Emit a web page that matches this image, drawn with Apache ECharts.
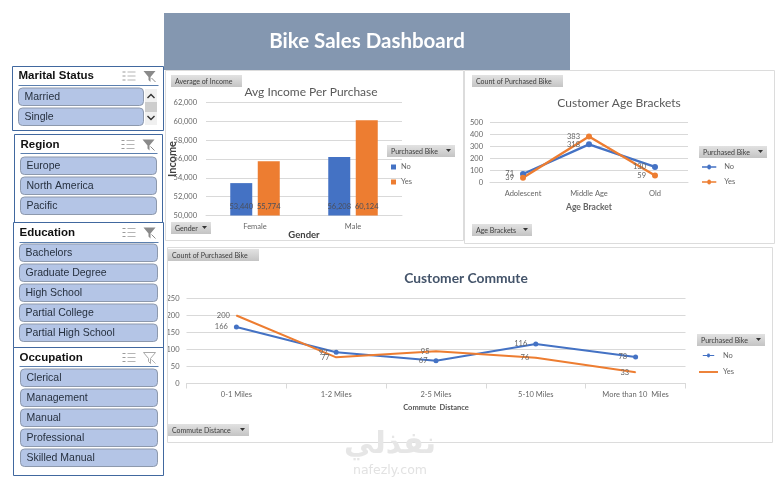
<!DOCTYPE html>
<html><head><meta charset="utf-8">
<style>html,body{margin:0;padding:0;background:#fff}#c{width:780px;height:479px}</style>
<script src="https://cdn.jsdelivr.net/npm/echarts@6/dist/echarts.min.js"></script>
</head><body><div id="c"></div>
<script>
// ---- data ----
const genders = ['Female', 'Male'];
const incomeNo = [53440, 56208];
const incomeYes = [55774, 60124];
const ageBrackets = ['Adolescent', 'Middle Age', 'Old'];
const ageNo = [71, 318, 130];
const ageYes = [39, 383, 59];
const commutes = ['0-1 Miles', '1-2 Miles', '2-5 Miles', '5-10 Miles', 'More than 10  Miles'];
const commuteNo = [166, 92, 67, 116, 78];
const commuteYes = [200, 77, 95, 76, 33];
const maritalItems = ['Married', 'Single'];
const regionItems = ['Europe', 'North America', 'Pacific'];
const educationItems = ['Bachelors', 'Graduate Degree', 'High School', 'Partial College', 'Partial High School'];
const occupationItems = ['Clerical', 'Management', 'Manual', 'Professional', 'Skilled Manual'];

const BLUE = '#4472C4', ORANGE = '#ED7D31', GRID = '#d9d9d9', TXT = '#666666';
const FONT = 'Lato, "Open Sans", sans-serif';
const chart = echarts.init(document.getElementById('c'), null, {renderer: 'canvas'});
const g = [];

function rect(x, y, w, h, fill, stroke, r, z) {
  g.push({type: 'rect', silent: true, z: z || 1, shape: {x, y, width: w, height: h, r: r || 0},
    style: {fill: fill || 'none', stroke: stroke || 'none', lineWidth: 1}});
}
function text(x, y, t, font, fill, align, z) {
  g.push({type: 'text', silent: true, z: z || 3, x, y,
    style: {text: t, font, fill, textAlign: align || 'left', textVerticalAlign: 'middle'}});
}
function hline(x1, x2, y, stroke, w) {
  g.push({type: 'line', silent: true, z: 2, shape: {x1, y1: y, x2, y2: y}, style: {stroke, lineWidth: w || 1}});
}
function pivotButton(x, y, w, label, arrow) {
  rect(x, y, w, 12, {type: 'linear', x: 0, y: 0, x2: 0, y2: 1,
    colorStops: [{offset: 0, color: '#e2e2e2'}, {offset: 1, color: '#c4c4c4'}]}, null, 0, 4);
  text(x + 4, y + 6.5, label, '7px ' + FONT, '#3c3c3c', 'left', 5);
  if (arrow) g.push({type: 'polygon', silent: true, z: 5,
    shape: {points: [[x + w - 9, y + 4], [x + w - 4, y + 4], [x + w - 6.5, y + 7]]}, style: {fill: '#333'}});
}
function slicer(o) {
  rect(o.x, o.y, o.w, o.h, 'none', '#41689f', 0, 2);
  text(o.x + 6, o.headY, o.title, 'bold 11.5px "Liberation Sans", sans-serif', '#111', 'left', 5);
  hline(o.x + 6, o.x + o.w - 5, o.lineY, '#5b7fae', 1);
  const ix = o.x + o.w - 41, fy = o.headY - 5;
  for (let i = 0; i < 3; i++) {
    hline(ix + 5, ix + 13, fy + 1 + i * 4, '#b5b5b5', 1);
    hline(ix, ix + 3, fy + 1 + i * 4, '#9a9a9a', 1);
  }
  const fx = o.x + o.w - 20;
  g.push({type: 'polygon', silent: true, z: 5,
    shape: {points: [[fx, fy], [fx + 12, fy], [fx + 7, fy + 6], [fx + 7, fy + 11], [fx + 5, fy + 9], [fx + 5, fy + 6]]},
    style: o.plain ? {fill: '#fff', stroke: '#a9a9a9', lineWidth: 1} : {fill: '#8a8a8a'}});
  g.push({type: 'line', silent: true, z: 5, shape: {x1: fx + 8, y1: fy + 7, x2: fx + 12, y2: fy + 11},
    style: {stroke: o.plain ? '#b5b5b5' : '#8a8a8a', lineWidth: 1}});
  o.items.forEach((t, i) => {
    const by = o.itemY + i * 20;
    rect(o.itemX, by, o.itemW, 17.5, '#b4c5e6', '#8d99ad', 4, 3);
    text(o.itemX + 6, by + 9.5, t, '10.5px "Liberation Sans", sans-serif', '#26303f', 'left', 5);
  });
}
// dashboard banner + panels
rect(164, 13, 406, 57, '#8497b0', null, 0, 1);
text(367, 41.5, 'Bike Sales Dashboard', 'bold 20.5px ' + FONT, '#ffffff', 'center', 5);
rect(165.5, 70.5, 298, 170, 'none', '#dcdcdc', 0, 0);
rect(464.5, 70.5, 310, 173, 'none', '#dcdcdc', 0, 0);
rect(167.5, 247.5, 605, 195, 'none', '#dcdcdc', 0, 0);
// slicers
slicer({x: 12.5, y: 66.5, w: 151, h: 64, title: 'Marital Status', headY: 76, lineY: 85.5, items: maritalItems, itemX: 18.5, itemW: 125, itemY: 88});
rect(145, 89, 12, 36, '#f0f0f0', null, 0, 3);
rect(145, 102, 12, 10, '#cdcdcd', null, 0, 4);
g.push({type: 'polyline', silent: true, z: 5, shape: {points: [[147.5, 98], [151, 94.5], [154.5, 98]]}, style: {stroke: '#333', fill: 'none', lineWidth: 1.4}});
g.push({type: 'polyline', silent: true, z: 5, shape: {points: [[147.5, 116], [151, 119.5], [154.5, 116]]}, style: {stroke: '#333', fill: 'none', lineWidth: 1.4}});
slicer({x: 14.5, y: 134.5, w: 148, h: 88, title: 'Region', headY: 144.5, lineY: 153.5, items: regionItems, itemX: 20.5, itemW: 136, itemY: 157});
slicer({x: 13.5, y: 222.5, w: 150, h: 125, title: 'Education', headY: 232.5, lineY: 242.5, items: educationItems, itemX: 19.5, itemW: 138, itemY: 244});
slicer({x: 13.5, y: 347.5, w: 150, h: 128, title: 'Occupation', headY: 357.5, lineY: 366.5, items: occupationItems, itemX: 20.5, itemW: 137, itemY: 369, plain: true});
// pivot buttons
pivotButton(171, 75, 71, 'Average of Income');
pivotButton(171, 222, 40, 'Gender', true);
pivotButton(387, 145, 68, 'Purchased Bike', true);
pivotButton(472, 75, 91, 'Count of Purchased Bike');
pivotButton(699, 146, 68, 'Purchased Bike', true);
pivotButton(472, 224, 60, 'Age Brackets', true);
pivotButton(168, 249, 91, 'Count of Purchased Bike');
pivotButton(697, 334, 68, 'Purchased Bike', true);
pivotButton(168, 424, 81, 'Commute Distance', true);
// watermark
text(390, 445, 'نفذلي', 'bold 30px "DejaVu Sans", sans-serif', '#e6e6e6', 'center', 6);
text(390, 471, 'nafezly.com', '12.5px "DejaVu Sans", sans-serif', '#e2e2e2', 'center', 6);

const LINE_DOT = 'path://M0 4H7.5A2.5 2.5 0 0 1 12.5 4H20V6H12.5A2.5 2.5 0 0 1 7.5 6H0Z';
function xAxis(i, data, name, nameGap, nameStyle, margin, ticks, size) {
  return {type: 'category', gridIndex: i, data, name, nameLocation: 'middle', nameGap, nameMoveOverlap: false, nameTextStyle: nameStyle,
    axisLine: {show: true, lineStyle: {color: GRID}}, axisTick: {show: ticks, lineStyle: {color: GRID}},
    axisLabel: {color: TXT, fontFamily: FONT, fontSize: size, margin, interval: 0}};
}
function yAxis(i, min, max, interval, size, margin, name, fmt) {
  return {type: 'value', gridIndex: i, min, max, interval, name, nameLocation: 'middle', nameGap: 28, nameMoveOverlap: false,
    nameTextStyle: {color: '#404040', fontFamily: FONT, fontWeight: 'bold', fontSize: 11},
    axisLine: {show: false}, axisTick: {show: false},
    splitLine: {lineStyle: {color: GRID}},
    axisLabel: {color: TXT, fontFamily: FONT, fontSize: size, margin, formatter: fmt}};
}
function barSeries(name, data, color) {
  return {type: 'bar', name, data, xAxisIndex: 0, yAxisIndex: 0, barWidth: 22, barGap: '25%',
    itemStyle: {color},
    label: {show: true, position: 'insideBottom', distance: 5, color: '#4a4f5c', fontFamily: FONT, fontSize: 7.5,
      formatter: p => p.value.toLocaleString('en-US')}};
}
function lineSeries(name, data, color, axis, size, width) {
  return {type: 'line', name, data, xAxisIndex: axis, yAxisIndex: axis, color,
    symbol: 'circle', symbolSize: size, showSymbol: true, showAllSymbol: true,
    lineStyle: {color, width}, itemStyle: {color},
    label: {show: true, position: 'left', distance: 6, color: TXT, fontFamily: FONT, fontSize: 7.5},
    labelLayout: {hideOverlap: false}};
}
const legendText = {color: TXT, fontFamily: FONT, fontSize: 7.5};
chart.setOption({
  animation: false,
  backgroundColor: '#ffffff',
  graphic: {elements: g},
  title: [
    {text: 'Avg Income Per Purchase', left: 311, top: 86, textAlign: 'center', padding: 0,
      textStyle: {color: '#595959', fontFamily: FONT, fontSize: 12, fontWeight: 'normal'}},
    {text: 'Customer Age Brackets', left: 619, top: 97.5, textAlign: 'center', padding: 0,
      textStyle: {color: '#595959', fontFamily: FONT, fontSize: 12, fontWeight: 'normal'}},
    {text: 'Customer Commute', left: 466, top: 271.5, textAlign: 'center', padding: 0,
      textStyle: {color: '#44546a', fontFamily: FONT, fontSize: 13.8, fontWeight: 'bold'}}
  ],
  grid: [
    {left: 206, top: 102.5, width: 196, height: 113},
    {left: 490, top: 122.5, width: 198, height: 60},
    {left: 186.5, top: 298.5, width: 499, height: 85}
  ],
  xAxis: [
    xAxis(0, genders, 'Gender', 14, {color: '#404040', fontFamily: FONT, fontWeight: 'bold', fontSize: 9.5}, 7, false, 7.5),
    xAxis(1, ageBrackets, 'Age Bracket', 20, {color: TXT, fontFamily: FONT, fontWeight: 'bold', fontSize: 8.5}, 7, false, 7.5),
    xAxis(2, commutes, 'Commute  Distance', 20, {color: '#555', fontFamily: FONT, fontWeight: 'bold', fontSize: 7.5}, 7, true, 7.5)
  ],
  yAxis: [
    yAxis(0, 50000, 62000, 2000, 7.5, 9, 'Income', v => v.toLocaleString('en-US')),
    yAxis(1, 0, 500, 100, 7.5, 7),
    yAxis(2, 0, 250, 50, 7.5, 7)
  ],
  legend: [
    {left: 391, top: 163, orient: 'vertical', padding: 0, itemGap: 7, itemWidth: 5, itemHeight: 5, textStyle: legendText,
      data: [{name: 'No', icon: 'rect'}, {name: 'Yes', icon: 'rect'}], selectedMode: false},
    {left: 702, top: 163, orient: 'vertical', padding: 0, itemGap: 7, itemWidth: 20, itemHeight: 5, textStyle: legendText,
      data: [{name: 'No', icon: LINE_DOT}, {name: 'Yes', icon: LINE_DOT}], selectedMode: false},
    {left: 699, top: 351.5, orient: 'vertical', padding: 0, itemGap: 8.5, itemWidth: 19, itemHeight: 4, textStyle: legendText,
      data: [{name: 'No', icon: LINE_DOT}, {name: 'Yes', icon: 'path://M0 1H20V3H0Z'}], selectedMode: false}
  ],
  series: [
    barSeries('No', incomeNo, BLUE),
    barSeries('Yes', incomeYes, ORANGE),
    lineSeries('No', ageNo, BLUE, 1, 6, 2.4),
    lineSeries('Yes', ageYes, ORANGE, 1, 6, 2.4),
    lineSeries('No', commuteNo, BLUE, 2, 5, 2),
    lineSeries('Yes', commuteYes, ORANGE, 2, 1, 2)
  ]
});
</script></body></html>
